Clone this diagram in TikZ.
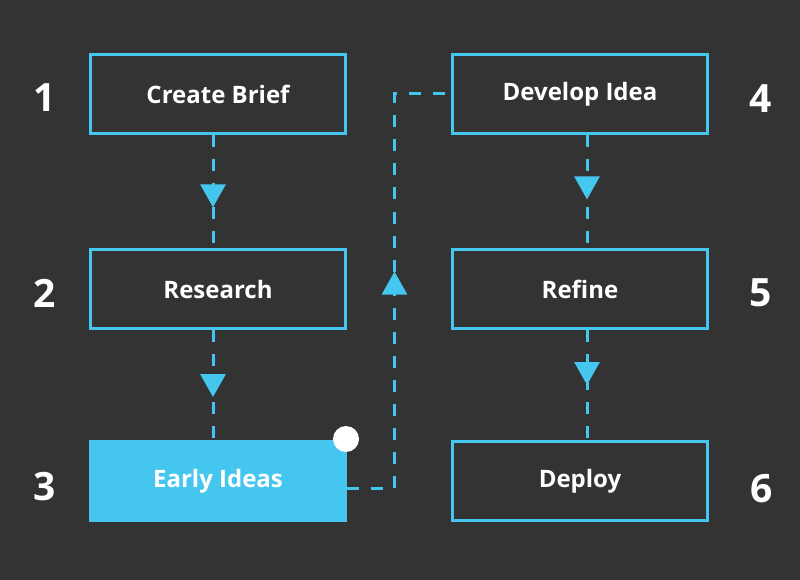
\documentclass[tikz,border=0pt]{standalone}
\usepackage{fontspec}
\setmainfont{Open Sans}
\usepackage{tikz}
\usetikzlibrary{arrows.meta,positioning,decorations.markings}
\definecolor{charcoal}{HTML}{333333}
\definecolor{sky}{HTML}{45C6EF}
\tikzset{
  stepbox/.style={
    rectangle, draw=sky, line width=3pt,
    minimum width=255pt, minimum height=79pt,
    font=\fontsize{24}{28}\selectfont\bfseries, text=white,
    inner sep=0pt
  },
  stepnum/.style={
    font=\fontsize{39}{42}\selectfont\bfseries, text=white, inner sep=0pt
  },
  flowarrow/.style={
    color=sky, line width=3pt, dash pattern=on 12pt off 12pt,
    postaction={decorate},
    decoration={markings, mark=at position #1 with
      {\arrow{Triangle[length=23pt,width=25pt]}}}
  },
  flowarrow/.default=0.5,
  markdot/.style={circle, fill=white, minimum size=26pt, inner sep=0pt}
}

\begin{document}
\begin{tikzpicture}[x=1pt, y=-1pt]
  \fill[charcoal] (0,0) rectangle (800,580);
  \useasboundingbox (0,0) rectangle (800,580);

  % left column
  \node[stepbox] (brief) at (218,94) {Create Brief};
  \node[stepbox, below=113pt of brief] (research) {Research};
  \node[stepbox, fill=sky, below=110pt of research] (early) {Early Ideas};
  \node[markdot] (dot) at ([xshift=-1pt,yshift=1pt]early.north east) {};

  % right column
  \node[stepbox, right=104pt of brief] (develop) {Develop Idea};
  \node[stepbox, below=113pt of develop] (refine) {Refine};
  \node[stepbox, below=110pt of refine] (deploy) {Deploy};

  % step numbers
  \node[stepnum] (n1) at (45,98) {1};
  \node[stepnum] (n2) at (45,293) {2};
  \node[stepnum] (n3) at (45,487) {3};
  \node[stepnum] (n4) at (761,99) {4};
  \node[stepnum] (n5) at (761,293) {5};
  \node[stepnum] (n6) at (762,489) {6};

  \draw[flowarrow=0.64] ([xshift=-5pt]brief.south) -- ([xshift=-5pt]research.north);
  \draw[flowarrow=0.61] ([xshift=-5pt]research.south) -- ([xshift=-5pt]early.north);
  \draw[flowarrow=0.53] ([yshift=-7pt]early.east) -- ++(47.5,0) |- (develop.west);
  \draw[flowarrow=0.57] ([xshift=7pt]develop.south) -- ([xshift=7pt]refine.north);
  \draw[flowarrow=0.5] ([xshift=7pt]refine.south) -- ([xshift=7pt]deploy.north);
\end{tikzpicture}
\end{document}
